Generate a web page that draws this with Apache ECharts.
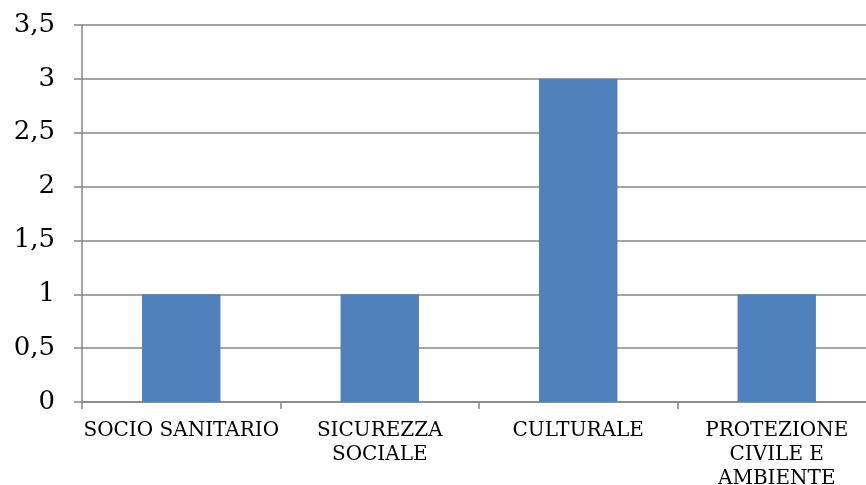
<!DOCTYPE html>
<html><head><meta charset="utf-8">
<script src="https://cdn.jsdelivr.net/npm/echarts@6/dist/echarts.min.js"></script>
<style>html,body{margin:0;padding:0;background:#fff;overflow:hidden;width:866px;height:485px}#c{width:876px;height:485px}</style>
</head><body><div id="c"></div>
<script>
const categories = ["SOCIO SANITARIO", "SICUREZZA\nSOCIALE", "CULTURALE", "PROTEZIONE\nCIVILE E\nAMBIENTE"];
const values = [1, 1, 3, 1];
const chart = echarts.init(document.getElementById('c'));
chart.setOption({
  animation: false,
  grid: { left: 82, top: 25, width: 794, height: 377, containLabel: false, outerBoundsMode: 'none' },
  xAxis: {
    type: 'category', data: categories,
    axisLine: { lineStyle: { color: '#868686', width: 1.5 } },
    axisTick: { show: true, alignWithLabel: false, length: 7, lineStyle: { color: '#868686', width: 1.5 } },
    axisLabel: { interval: 0, margin: 17, color: '#000', fontFamily: 'DejaVu Serif', fontSize: 20, lineHeight: 24 }
  },
  yAxis: {
    type: 'value', min: 0, max: 3.5, interval: 0.5,
    axisLine: { show: true, lineStyle: { color: '#868686', width: 1.5 } },
    axisTick: { show: true, length: 8, lineStyle: { color: '#868686', width: 1.5 } },
    splitLine: { lineStyle: { color: '#868686', width: 1.5 } },
    axisLabel: { margin: 27, color: '#000', fontFamily: 'DejaVu Serif', fontSize: 26,
      formatter: v => String(v).replace('.', ',') }
  },
  series: [{ type: 'bar', data: values, barWidth: '39.5%', itemStyle: { color: '#4F81BD' } }]
});
</script></body></html>
